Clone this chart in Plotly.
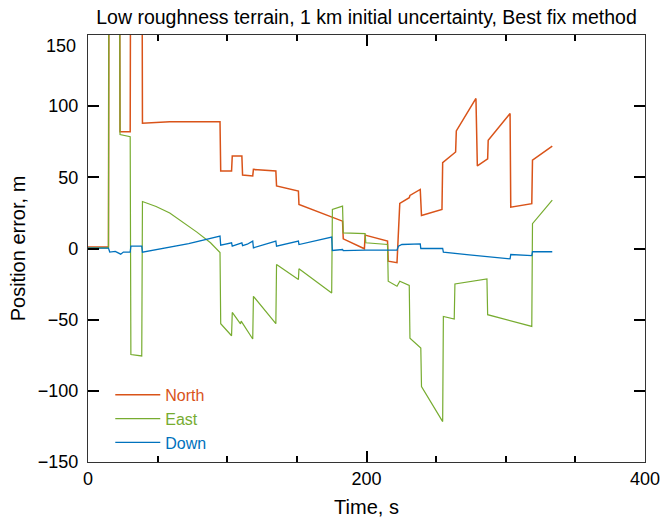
import plotly.graph_objects as go

# ---- data ----
north_t = [0, 14.7, 15.2, 22.5, 23.0, 30.3, 30.8, 38.6, 39.1, 58.7, 94.8, 95.3, 103.1, 103.6,
           110.5, 111.0, 118.3, 118.8, 134.9, 135.4, 151.1, 151.5, 182.8, 183.3, 198.5, 199.0,
           215.1, 215.6, 221.9, 223.9, 230.7, 231.2, 238.6, 239.5, 254.2, 254.7, 264.0, 264.5,
           278.6, 279.6, 287.0, 287.4, 303.1, 303.6, 318.7, 319.2, 333.4]
north_v = [1, 1, 300, 300, 82, 82, 300, 300, 88, 89, 89, 54.4, 54.4, 65,
           65, 51.6, 51, 55.6, 54.4, 44, 40.4, 31, 19.2, 6.8, -0.2, 9.4,
           5.2, -8.9, -10, 31.7, 35.7, 37.3, 41.5, 23.2, 27.5, 60.3, 67.8, 82.6,
           105.4, 58, 63, 76, 94.8, 29, 31.5, 62, 72]

east_t = [0, 14.7, 15.2, 22.5, 23.0, 30.3, 30.8, 38.6, 39.1, 48.9, 58.7, 68.4, 78.2, 88.0,
          94.8, 95.3, 103.1, 103.6, 109.5, 110.0, 118.3, 118.8, 134.9, 135.4, 151.1, 151.5,
          175.0, 175.5, 182.8, 183.3, 199.0, 199.5, 215.1, 215.6, 221.9, 223.9, 230.7, 231.2,
          239.0, 239.5, 254.7, 255.2, 263.0, 263.5, 286.5, 287.0, 318.7, 319.2, 333.4]
east_v = [0.5, 0.5, 300, 300, 80, 78.5, -74.5, -75.5, 33, 29.5, 25, 18.5, 11.5, 4,
          -2.8, -52.8, -61.3, -44.9, -53, -51, -63.6, -33.6, -52.8, -11.3, -21.8, -14.3,
          -31.2, 27.5, 29.8, 11, 10.5, 4, 2.8, -23, -26.5, -23, -26, -63,
          -70, -97, -121.6, -47.7, -49.5, -24.9, -21.4, -46.5, -54.7, 17.4, 34]

down_t = [0, 14.7, 15.6, 19.6, 23.5, 25.4, 30.3, 30.8, 38.6, 39.1, 72.3, 94.8, 95.3, 103.1,
          103.6, 110.5, 111.0, 114.4, 118.3, 118.8, 134.9, 135.4, 151.1, 151.5, 175.0, 175.5,
          182.8, 183.3, 199.0, 221.9, 222.9, 225.4, 238.6, 239.0, 254.7, 255.2, 273.8, 293.3,
          303.1, 303.6, 318.7, 319.2, 333.4]
down_v = [0.3, 0.3, -2.5, -2, -4, -2.5, -2.5, 1.6, 1.6, -2.6, 3.5, 8.7, 2.3, 4,
          1.6, 4, 2, 3, 5.2, 0.5, 5.2, 1.6, 5.2, 2.8, 8, -1.4,
          -0.7, -1.5, -1.2, -1.2, 1.6, 2.8, 3.3, 0, 0, -2.6, -4.5, -6.5,
          -7.3, -4.2, -5, -2.3, -2.3]

series_names = ["North", "East", "Down"]
series_colors = ["#D95319", "#77AC30", "#0072BD"]
title_text = "Low roughness terrain, 1 km initial uncertainty, Best fix method"
y_ticks = [-150, -100, -50, 0, 50, 100, 150]

FONT = "Liberation Sans, Arial, Helvetica, sans-serif"

fig = go.Figure()
for name, color, t, v, w in [
    (series_names[0], series_colors[0], north_t, north_v, 1.5),
    (series_names[1], series_colors[1], east_t, east_v, 1.2),
    (series_names[2], series_colors[2], down_t, down_v, 1.3),
]:
    fig.add_trace(go.Scatter(
        x=t, y=v, mode="lines",
        line=dict(color=color, width=w),
        name=f"<span style='color:{color}'>{name}</span>",
    ))

axis_common = dict(
    showgrid=False, zeroline=False, showline=True, linecolor="#333", linewidth=1.3,
    mirror="allticks", ticks="inside", tickcolor="#000", tickwidth=1.6,
    tickfont=dict(family=FONT, size=18, color="#000"), automargin=False,
)

# y tick labels: the top one is nudged down inside the frame, as in the reference
y_text = ["" if v == y_ticks[-1] else ("\u2212" + str(-v) if v < 0 else str(v)) for v in y_ticks]

fig.update_layout(
    width=664, height=521,
    margin=dict(l=88, r=19, t=35, b=59),
    paper_bgcolor="white", plot_bgcolor="white",
    font=dict(family=FONT, color="#000"),
    title=dict(text=title_text, x=0.5, xref="paper", xanchor="center",
               y=1 - 17 / 521, yref="container", yanchor="middle",
               font=dict(family=FONT, size=19.5, color="#000")),
    showlegend=True,
    legend=dict(x=0.04, y=0.197, xanchor="left", yanchor="top", itemwidth=45,
                bgcolor="rgba(0,0,0,0)", borderwidth=0,
                font=dict(family=FONT, size=16), tracegroupgap=0),
    xaxis=dict(range=[0, 400], dtick=200, tick0=0, ticklen=11,
               minor=dict(dtick=50, ticklen=6, ticks="inside", tickcolor="#000"),
               title=dict(text="Time, s", font=dict(family=FONT, size=20), standoff=12),
               **axis_common),
    yaxis=dict(range=[-150, 150], tickvals=y_ticks, ticktext=y_text, ticklen=11,
               ticklabelstandoff=5,
               title=dict(text="Position error, m", font=dict(family=FONT, size=20), standoff=6),
               **axis_common),
    annotations=[dict(text=str(y_ticks[-1]), x=0, xref="paper", y=y_ticks[-1], yref="y",
                      xanchor="right", yanchor="middle", xshift=-10, yshift=-11,
                      showarrow=False, font=dict(family=FONT, size=18, color="#000"))],
)

fig.write_html("out.html")
